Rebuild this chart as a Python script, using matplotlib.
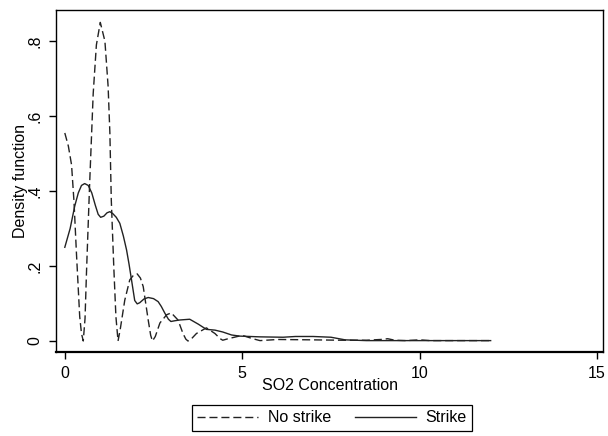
import matplotlib
matplotlib.use("Agg")
import matplotlib.pyplot as plt

plt.rcParams['font.family'] = ['Liberation Sans', 'DejaVu Sans']

# density estimates
so2_no_strike = [0.0, 0.1, 0.19, 0.26, 0.33, 0.42, 0.47, 0.52, 0.57, 0.61, 0.70, 0.80, 0.89, 1.0,
                 1.13, 1.22, 1.27, 1.31, 1.38, 1.44, 1.50, 1.56, 1.69, 1.83, 1.94, 2.04, 2.13,
                 2.21, 2.35, 2.42, 2.47, 2.55, 2.68, 2.87, 3.0, 3.19, 3.33, 3.41, 3.47, 3.55,
                 3.71, 3.99, 4.23, 4.38, 4.45, 4.6, 5.0, 5.3, 5.5, 6.0, 7.0, 7.8, 8.5, 8.9,
                 9.1, 9.3, 9.6, 10.0, 10.3, 11.0, 12.0]
dens_no_strike = [0.555, 0.52, 0.47, 0.37, 0.23, 0.065, 0.02, 0.0, 0.06, 0.18, 0.42, 0.66, 0.79, 0.85,
                  0.80, 0.68, 0.555, 0.376, 0.198, 0.065, 0.0, 0.03, 0.109, 0.163, 0.176, 0.179, 0.168,
                  0.145, 0.056, 0.015, 0.0, 0.012, 0.048, 0.07, 0.075, 0.056, 0.02, 0.005, 0.0, 0.004,
                  0.02, 0.035, 0.02, 0.006, 0.002, 0.006, 0.015, 0.006, 0.001, 0.004, 0.003, 0.002, 0.002, 0.004,
                  0.006, 0.002, 0.001, 0.003, 0.001, 0.001, 0.001]

so2_strike = [0.0, 0.15, 0.28, 0.38, 0.47, 0.56, 0.66, 0.76, 0.86, 0.94, 1.01, 1.1, 1.19, 1.27, 1.35,
              1.45, 1.55, 1.65, 1.74, 1.81, 1.88, 1.97, 2.04, 2.11, 2.23, 2.35, 2.5, 2.63, 2.72,
              2.82, 2.92, 2.99, 3.1, 3.24, 3.52, 3.76, 3.99, 4.23, 4.45, 4.7, 4.93, 5.5, 6.15,
              6.5, 7.0, 7.5, 7.9, 8.5, 10.0, 12.0]
dens_strike = [0.25, 0.30, 0.36, 0.395, 0.415, 0.42, 0.415, 0.395, 0.362, 0.338, 0.33, 0.333, 0.342, 0.345,
               0.34, 0.33, 0.314, 0.28, 0.243, 0.205, 0.163, 0.108, 0.099, 0.102, 0.112, 0.116, 0.113,
               0.105, 0.092, 0.074, 0.058, 0.052, 0.054, 0.056, 0.058, 0.045, 0.031, 0.029, 0.024,
               0.016, 0.013, 0.011, 0.01, 0.012, 0.012, 0.01, 0.003, 0.001, 0.001, 0.001]

fig = plt.figure(figsize=(6.08, 4.36), dpi=100)
ax = fig.add_axes([0.092, 0.193, 0.9, 0.784])

ax.plot(so2_no_strike, dens_no_strike, color='#222222', lw=1.0, dashes=(5.8, 2.8), label='No strike')
ax.plot(so2_strike, dens_strike, color='#222222', lw=1.0, label='Strike')

ax.set_xlim(-0.25, 15.17)
ax.set_ylim(-0.029, 0.883)
ax.set_xticks([0, 5, 10, 15])
ax.set_yticks([0, 0.2, 0.4, 0.6, 0.8])
ax.set_yticklabels(['0', '.2', '.4', '.6', '.8'], rotation=90, va='center')
ax.tick_params(direction='out', length=5, width=1, labelsize=11.5, color='black', pad=5)
for s in ax.spines.values():
    s.set_linewidth(1.0)
ax.spines['bottom'].set_linewidth(1.6)

ax.set_xlabel('SO2 Concentration', fontsize=11.5, labelpad=-2)
ax.set_ylabel('Density function', fontsize=11.5, labelpad=-1)

leg = fig.legend(loc='center', bbox_to_anchor=(0.546, 0.042), ncol=2, fontsize=11.5,
                 handlelength=3.8, handletextpad=0.6, columnspacing=1.5, fancybox=False,
                 framealpha=1, edgecolor='black', borderpad=0.35, borderaxespad=0)
leg.get_frame().set_linewidth(0.9)

fig.savefig('out.png', dpi=100)
